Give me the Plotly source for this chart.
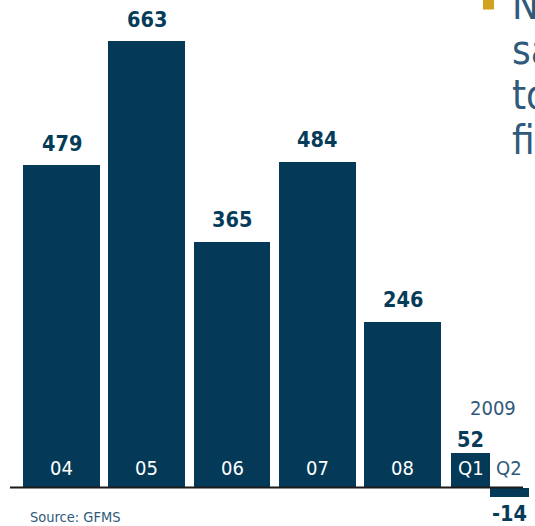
import plotly.graph_objects as go

# ---- data ----
categories = ["04", "05", "06", "07", "08", "Q1", "Q2"]
values = [479, 663, 365, 484, 246, 52, -14]
is_quarter = [False, False, False, False, False, True, True]
quarter_year = "2009"
source_text = "Source: GFMS"
side_lines = ["Net", "sales", "to", "first"]

# ---- style ----
BAR = "#043A57"
LABEL_DARK = "#063C59"
SOFT = "#2F5A7B"
GOLD = "#D1A31C"
FONT = "DejaVu Sans Condensed, DejaVu Sans, sans-serif"
W, H = 535, 526
PX_PER_UNIT_X = 85.25
X0_PX = 61.5
BASE_PX = 487.5
PX_PER_VAL = 0.673

# positions: annual bars on integer slots, quarters share a narrower pair of slots
xs, widths = [], []
annual_i = 0
q_i = 0
for q in is_quarter:
    if not q:
        xs.append(annual_i)
        widths.append(0.903)
        annual_i += 1
    else:
        xs.append(annual_i - 0.2 + q_i * 0.4525)
        widths.append(0.4575)
        q_i += 1

fig = go.Figure()
fig.add_trace(go.Bar(
    x=xs, y=values, width=widths,
    marker=dict(color=BAR, line=dict(width=0)),
    hoverinfo="skip", showlegend=False,
))

ann = []
for x, v, c, q in zip(xs, values, categories, is_quarter):
    if v >= 0:
        ann.append(dict(x=x, y=v, xref="x", yref="y", text=f"<b>{v}</b>",
                        showarrow=False, yanchor="middle",
                        yshift=13 if q else 22,
                        font=dict(family=FONT, size=21.5, color=LABEL_DARK)))
        ann.append(dict(x=x, y=0, xref="x", yref="y", text=c, showarrow=False,
                        yanchor="middle", yshift=20,
                        font=dict(family=FONT, size=20, color="white")))
    else:
        ann.append(dict(x=x, y=v, xref="x", yref="y", text=f"<b>{v}</b>",
                        showarrow=False, yanchor="middle", yshift=-17,
                        font=dict(family=FONT, size=21.5, color=LABEL_DARK)))
        ann.append(dict(x=x, y=0, xref="x", yref="y", text=c, showarrow=False,
                        yanchor="middle", yshift=20,
                        font=dict(family=FONT, size=20, color=SOFT)))

qx = [x for x, q in zip(xs, is_quarter) if q]
ann.append(dict(x=sum(qx) / len(qx), y=0, xref="x", yref="y", text=quarter_year,
                showarrow=False, yanchor="middle", yshift=79.5, xshift=3,
                font=dict(family=FONT, size=20, color=SOFT)))
ann.append(dict(x=28 / W, y=1 - 517 / H, xref="paper", yref="paper", text=source_text,
                showarrow=False, xanchor="left", yanchor="middle",
                font=dict(family=FONT, size=14.5, color=SOFT)))
for i, t in enumerate(side_lines):
    ann.append(dict(x=510 / W, y=1 - (20 + 45 * i) / H, xref="paper", yref="paper",
                    text=t, showarrow=False, xanchor="left", yanchor="bottom",
                    yshift=-10,
                    font=dict(family=FONT, size=40, color=SOFT)))

shapes = [
    dict(type="line", xref="paper", yref="y", x0=10 / W, x1=523 / W, y0=0, y1=0,
         line=dict(color="#1a1a1a", width=2)),
    dict(type="rect", xref="paper", yref="paper", x0=483 / W, x1=494 / W,
         y0=1 - 9.5 / H, y1=1 + 2 / H, fillcolor=GOLD, line=dict(width=0)),
]

fig.update_layout(
    width=W, height=H,
    margin=dict(l=0, r=0, t=0, b=0),
    paper_bgcolor="white", plot_bgcolor="white",
    xaxis=dict(range=[-X0_PX / PX_PER_UNIT_X, (W - X0_PX) / PX_PER_UNIT_X],
               visible=False, fixedrange=True),
    yaxis=dict(range=[-(H - BASE_PX) / PX_PER_VAL, BASE_PX / PX_PER_VAL],
               visible=False, fixedrange=True),
    annotations=ann, shapes=shapes, bargap=0,
)

fig.write_html("out.html")
